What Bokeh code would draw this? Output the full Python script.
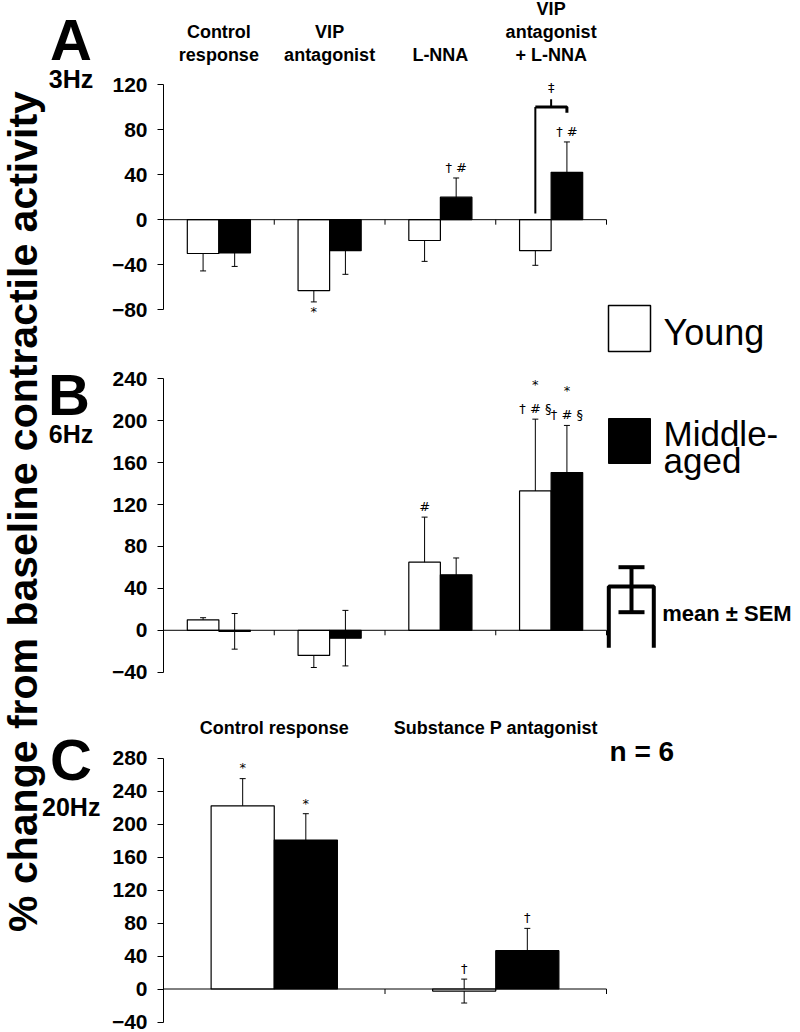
import math
from bokeh.plotting import figure
from bokeh.models import Range1d, FixedTicker, Label, Whisker, ColumnDataSource, TeeHead
from bokeh.layouts import row, column
from bokeh.embed import file_html
from bokeh.resources import INLINE
from bokeh.core.properties import value

FONT = "Liberation Sans"
SYM_FONT = "DejaVu Sans"

# ---------------- data ----------------
series_names = ["Young", "Middle-aged"]
y_label = "% change from baseline contractile activity"
panel_letters = ["A", "B", "C"]
frequencies = ["3Hz", "6Hz", "20Hz"]
n_text = "n = 6"
sem_text = "mean \u00b1 SEM"

cats_ab = [["Control", "response"], ["VIP", "antagonist"], ["L-NNA"], ["VIP", "antagonist", "+ L-NNA"]]

a_ticks = [-80, -40, 0, 40, 80, 120]
a_young = [-30, -63, -18.5, -27.5]
a_young_sem = [15.5, 10, 18.5, 13]
a_middle = [-29.5, -27.5, 20, 42]
a_middle_sem = [12, 21, 17, 27]
a_young_marks = [[], ["*"], [], []]
a_middle_marks = [[], [], ["\u2020 #"], ["\u2020 #"]]
a_bracket_mark = "\u2021"

b_ticks = [-40, 0, 40, 80, 120, 160, 200, 240]
b_young = [10, -24, 65, 133]
b_young_sem = [2, 11.5, 43, 68.5]
b_middle = [-1, -7.5, 53, 150.5]
b_middle_sem = [17, 26.5, 16, 45]
b_young_marks = [[], [], ["#"], ["\u2020 # \u00a7", "*"]]
b_middle_marks = [[], [], [], ["\u2020 # \u00a7", "*"]]

cats_c = [["Control response"], ["Substance P antagonist"]]
c_ticks = [-40, 0, 40, 80, 120, 160, 200, 240, 280]
c_young = [222, -2.5]
c_young_sem = [33, 14.5]
c_middle = [180.5, 46.5]
c_middle_sem = [32, 27]
c_young_marks = [["*"], ["\u2020"]]
c_middle_marks = [["*"], ["\u2020"]]

# ---------------- layout (page pixels) ----------------
PAGE_W, PAGE_H = 800, 1032
STRIP_W = 104
PANEL_W = PAGE_W - STRIP_W
AXIS_X = 163
AXIS_END = 606
BAR_FRAC = 0.285
BASE_FIX = 0.36  # renderer places "alphabetic" text this many em lower


def bl(py, fs):
    """page y of wanted baseline -> y to hand to the renderer"""
    return py - BASE_FIX * fs


def make_panel(top, height, ticks, py_hi, py_lo, cats, young, ysem, middle, msem,
               ymarks, mmarks, header_base=None, header_step=24):
    ncat = len(cats)
    cat_w = (AXIS_END - AXIS_X) / ncat
    v_hi, v_lo = ticks[-1], ticks[0]
    ppu = (py_lo - py_hi) / (v_hi - v_lo)

    def Y(py):
        return v_hi + (py_hi - py) / ppu

    def PY(v):
        return py_hi + (v_hi - v) * ppu

    def X(px):
        return (px - AXIS_X) / cat_w

    p = figure(width=PANEL_W, height=height,
               x_range=Range1d(0, X(PAGE_W)), y_range=Range1d(Y(top + height), Y(top)),
               x_axis_location=None, toolbar_location=None, output_backend="svg",
               min_border_left=AXIS_X - STRIP_W, min_border_right=0,
               min_border_top=0, min_border_bottom=0)
    p.outline_line_color = None
    p.grid.visible = False
    p.background_fill_color = "white"
    p.border_fill_color = "white"

    ax = p.yaxis[0]
    ax.ticker = FixedTicker(ticks=ticks)
    ax.bounds = (v_lo, v_hi)
    ax.axis_line_color = "black"
    ax.axis_line_width = 1
    ax.major_tick_line_color = "black"
    ax.major_tick_out = 6
    ax.major_tick_in = 0
    ax.minor_tick_line_color = None
    ax.major_label_standoff = 10
    ax.major_label_text_font = FONT
    ax.major_label_text_font_size = "21px"
    ax.major_label_text_font_style = "bold"
    ax.major_label_text_color = "black"

    xs_y = [i + 0.5 - BAR_FRAC / 2 for i in range(ncat)]
    xs_m = [i + 0.5 + BAR_FRAC / 2 for i in range(ncat)]

    p.vbar(x=xs_y, top=young, bottom=0, width=BAR_FRAC, fill_color="white",
           line_color="black", line_width=1.2)
    p.vbar(x=xs_m, top=middle, bottom=0, width=BAR_FRAC, fill_color="black",
           line_color="black", line_width=1.2)

    # x axis at zero with category ticks
    p.segment(x0=[0], y0=[0], x1=[ncat], y1=[0], line_color="black", line_width=1)
    p.ray(x=list(range(1, ncat + 1)), y=[0] * ncat, length=5, length_units="screen",
          angle=-math.pi / 2, line_color="black", line_width=1)

    for xs, vals, sems in ((xs_y, young, ysem), (xs_m, middle, msem)):
        src = ColumnDataSource(dict(base=xs,
                                    upper=[v + s for v, s in zip(vals, sems)],
                                    lower=[v - s for v, s in zip(vals, sems)]))
        p.add_layout(Whisker(source=src, base="base", upper="upper", lower="lower",
                             line_color="black", line_width=1,
                             upper_head=TeeHead(size=6, line_color="black", line_width=1),
                             lower_head=TeeHead(size=6, line_color="black", line_width=1)))

    # significance marks
    fs = 13
    tx, ty, tt = [], [], []
    for xs, vals, sems, marks in ((xs_y, young, ysem, ymarks), (xs_m, middle, msem, mmarks)):
        for x, v, s, mk in zip(xs, vals, sems, marks):
            for k, m in enumerate(mk):
                if v > -5:
                    py = PY(v + s) - 6 - k * 24
                else:
                    py = PY(v - s) + 14 + k * 24
                tx.append(x)
                ty.append(Y(bl(py, fs)))
                tt.append(m)
    if tt:
        p.text(x=tx, y=ty, text=tt, text_font=value(SYM_FONT), text_font_size=f"{fs}px",
               text_align="center", text_baseline="alphabetic", text_color="black")

    # category headers (bottom aligned)
    if header_base is not None:
        hfs = 18
        hx, hy, ht = [], [], []
        for i, lines in enumerate(cats):
            for k, line in enumerate(reversed(lines)):
                hx.append(i + 0.5)
                hy.append(Y(bl(header_base - k * header_step, hfs)))
                ht.append(line)
        p.text(x=hx, y=hy, text=ht, text_font=value(FONT), text_font_size=f"{hfs}px",
               text_font_style="bold", text_align="center", text_baseline="alphabetic",
               text_color="black")
    return p, X, Y


A_TOP, A_H = 0, 368
B_TOP, B_H = 368, 336
C_TOP, C_H = 704, 328

# ---------------- panel A ----------------
pa, XA, YA = make_panel(A_TOP, A_H, a_ticks, 84, 309.3, cats_ab, a_young, a_young_sem,
                        a_middle, a_middle_sem, a_young_marks, a_middle_marks,
                        header_base=61, header_step=23)
xw = 3 + 0.5 - BAR_FRAC / 2
xb = 3 + 0.5 + BAR_FRAC / 2
pa.line(x=[xw, xw], y=[5.5, 100], line_color="black", line_width=2)
pa.line(x=[xw, xb, xb], y=[100, 100, 95], line_color="black", line_width=3)
pa.line(x=[3.5, 3.5], y=[100, 107], line_color="black", line_width=2)
pa.text(x=[3.5], y=[YA(bl(92, 13))], text=[a_bracket_mark], text_font=value(SYM_FONT),
        text_font_size="13px", text_align="center", text_baseline="alphabetic",
        text_color="black")
# legend: Young
pa.quad(left=[XA(608)], right=[XA(650)], top=[YA(305)], bottom=[YA(351)],
        fill_color="white", line_color="black", line_width=1.5)
pa.text(x=[XA(663)], y=[YA(bl(345, 36))], text=[series_names[0]], text_font=value(FONT),
        text_font_size="36px", text_align="left", text_baseline="alphabetic",
        text_color="black")

# ---------------- panel B ----------------
pb, XB, YB = make_panel(B_TOP, B_H, b_ticks, 378.3, 671.7, cats_ab, b_young, b_young_sem,
                        b_middle, b_middle_sem, b_young_marks, b_middle_marks)
# legend: Middle-aged
pb.quad(left=[XB(608)], right=[XB(650)], top=[YB(418)], bottom=[YB(463)],
        fill_color="black", line_color="black", line_width=1)
mid_lines = ["Middle-", "aged"]
pb.text(x=[XB(663), XB(663)], y=[YB(bl(446, 35)), YB(bl(473, 35))], text=mid_lines,
        text_font=value(FONT), text_font_size="35px", text_align="left",
        text_baseline="alphabetic", text_color="black")
# legend: mean +- SEM icon
pb.multi_line(xs=[[XB(608.3), XB(608.3), XB(653.3), XB(653.3)],
                  [XB(618), XB(644)], [XB(631), XB(631)], [XB(618), XB(644)]],
              ys=[[YB(647.3), YB(586), YB(586), YB(647.3)],
                  [YB(566.7), YB(566.7)], [YB(566.7), YB(611.7)], [YB(611.7), YB(611.7)]],
              line_color="black", line_width=4)
pb.text(x=[XB(661.7)], y=[YB(bl(620.7, 22))], text=[sem_text], text_font=value(FONT),
        text_font_size="22px", text_font_style="bold", text_align="left",
        text_baseline="alphabetic", text_color="black")

# ---------------- panel C ----------------
pc, XC, YC = make_panel(C_TOP, C_H, c_ticks, 757.5, 1021.5, cats_c, c_young, c_young_sem,
                        c_middle, c_middle_sem, c_young_marks, c_middle_marks,
                        header_base=734)
pc.text(x=[XC(609)], y=[YC(bl(761, 28))], text=[n_text], text_font=value(FONT),
        text_font_size="28px", text_font_style="bold", text_align="left",
        text_baseline="alphabetic", text_color="black")

# ---------------- left strip: y label, panel letters, frequencies ----------------
lab = figure(width=STRIP_W, height=PAGE_H, x_range=Range1d(0, STRIP_W),
             y_range=Range1d(PAGE_H, 0), x_axis_location=None, y_axis_location=None,
             toolbar_location=None, output_backend="svg", min_border=0)
lab.outline_line_color = None
lab.grid.visible = False
LFS = 41
lab.add_layout(Label(x=37.5 - BASE_FIX * LFS, y=511, text=y_label, angle=math.pi / 2,
                     text_align="center", text_baseline="alphabetic", text_font=FONT,
                     text_font_size=f"{LFS}px", text_font_style="bold",
                     text_color="black"))
lab.text(x=[70.5, 68.5, 70.5], y=[bl(60, 58), bl(415, 58), bl(780, 58)], text=panel_letters,
         text_font=value(FONT), text_font_size="58px", text_font_style="bold",
         text_align="center", text_baseline="alphabetic", text_color="black")
lab.text(x=[70.5, 70.5, 70.7], y=[bl(87, 25), bl(442, 25), bl(815, 25)], text=frequencies,
         text_font=value(FONT), text_font_size="25px", text_font_style="bold",
         text_align="center", text_baseline="alphabetic", text_color="black")

layout = row(lab, column(pa, pb, pc))
open("out.html", "w").write(file_html(layout, INLINE))
